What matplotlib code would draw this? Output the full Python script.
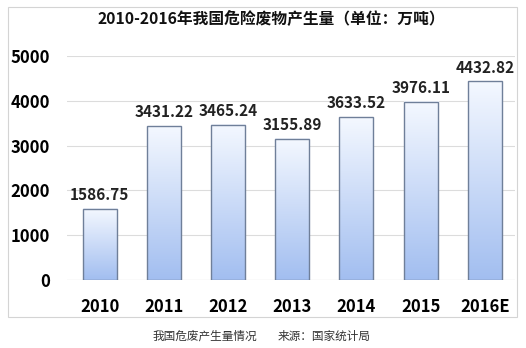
import numpy as np
import matplotlib
matplotlib.use('Agg')
from matplotlib import pyplot as plt
from matplotlib.colors import LinearSegmentedColormap
from matplotlib.patches import Rectangle

plt.rcParams['font.family'] = ['Noto Sans CJK SC', 'DejaVu Sans']

# --
# data

years  = ['2010', '2011', '2012', '2013', '2014', '2015', '2016E']
values = [1586.75, 3431.22, 3465.24, 3155.89, 3633.52, 3976.11, 4432.82]
yticks = [0, 1000, 2000, 3000, 4000, 5000]

title     = '2010-2016年我国危险废物产生量（单位：万吨）'
caption_l = '我国危废产生量情况'
caption_r = '来源：国家统计局'

# --

fig = plt.figure(figsize=(5.26, 3.48), dpi=100)
ax  = fig.add_axes([67 / 526, 68 / 348, 448 / 526, 224 / 348])

x    = np.arange(len(years))
bars = ax.bar(x, values, width=0.53, facecolor='none', edgecolor='#6f7f99', linewidth=1.0, zorder=3)

cmap = LinearSegmentedColormap.from_list('g', ['#a2bef0', '#f4f8ff'])
grad = np.linspace(0, 1, 256).reshape(-1, 1)
for b in bars:
  x0, y0 = b.get_x(), b.get_y()
  ax.imshow(grad, cmap=cmap, origin='lower', aspect='auto', zorder=2,
            extent=(x0, x0 + b.get_width(), y0, y0 + b.get_height()))

for xi, v in zip(x, values):
  ax.text(xi, v + 130, f'{v:.2f}', ha='center', va='bottom', fontsize=11,
          fontweight='bold', color='#222222', clip_on=False)

ax.set_xlim(-0.51, len(years) - 0.53)
ax.set_ylim(0, 5000)
ax.set_yticks(yticks)
ax.set_yticklabels([str(t) for t in yticks], fontsize=12, fontweight='bold')
ax.set_xticks(x)
ax.set_xticklabels(years, fontsize=12, fontweight='bold')
ax.tick_params(length=0)
ax.tick_params(axis='y', pad=12)
ax.tick_params(axis='x', pad=13)
ax.grid(axis='y', color='#dcdcdc', linewidth=0.8, zorder=0)
for s in ax.spines.values():
  s.set_visible(False)
ax.axhline(0, color='#d0d0d0', linewidth=0.8, zorder=1)

fig.patches.append(Rectangle((8 / 526, 1 - 317 / 348), 509 / 526, 310 / 348,
                             transform=fig.transFigure, fill=False,
                             edgecolor='#d4d4d4', linewidth=0.8))

fig.text(271 / 526, 1 - 19 / 348, title, ha='center', va='center', fontsize=11.3,
         fontweight='bold', color='#111111')
fig.text(153 / 526, 1 - 336 / 348, caption_l, ha='left', va='center', fontsize=8.4,
         color='#333333')
fig.text(278 / 526, 1 - 336 / 348, caption_r, ha='left', va='center', fontsize=8.4,
         color='#333333')

fig.savefig('out.png', dpi=100)
